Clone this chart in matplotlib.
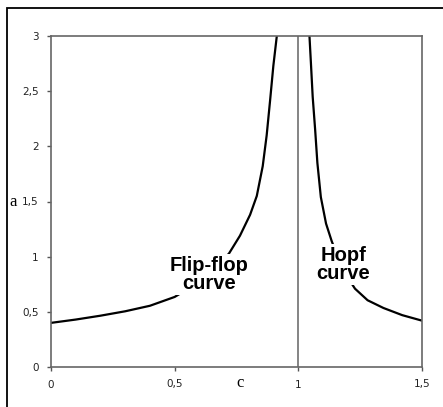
import matplotlib.pyplot as plt
from matplotlib.patches import Rectangle

# flip-flop curve (left branch)
ff_c = [0, 0.1, 0.2, 0.3, 0.4, 0.5, 0.6, 0.66, 0.72, 0.764,
        0.805, 0.832, 0.856, 0.872, 0.886, 0.899, 0.913]
ff_a = [0.40, 0.43, 0.465, 0.505, 0.555, 0.635, 0.77, 0.88, 1.03, 1.19,
        1.38, 1.55, 1.82, 2.10, 2.42, 2.73, 3.0]

# Hopf curve (right branch)
hopf_c = [1.045, 1.051, 1.058, 1.068, 1.077, 1.091, 1.112, 1.135, 1.18,
          1.229, 1.28, 1.344, 1.42, 1.5]
hopf_a = [3.0, 2.75, 2.45, 2.15, 1.85, 1.54, 1.30, 1.14, 0.88,
          0.71, 0.605, 0.535, 0.47, 0.42]

c_line = 1.0
xticks = [0, 0.5, 1, 1.5]
xlabels = ["0", "0,5", "1", "1,5"]
yticks = [0, 0.5, 1, 1.5, 2, 2.5, 3]
ylabels = ["0", "0,5", "1", "1,5", "2", "2,5", "3"]

fig = plt.figure(figsize=(4.43, 4.07), dpi=100)
W, H = 443, 407

# outer chart frame (only left/top show in the picture)
fig.patches.append(Rectangle((7 / W, -0.1), 1.2, 1 - 8 / H + 0.1,
                             transform=fig.transFigure, fill=False,
                             edgecolor="black", linewidth=1.3))

ax = fig.add_axes([51 / W, 40 / H, 371 / W, 331 / H])

ax.plot(ff_c, ff_a, color="black", linewidth=1.6, solid_joinstyle="round")
ax.plot(hopf_c, hopf_a, color="black", linewidth=1.6, solid_joinstyle="round")
ax.axvline(c_line, color="#707070", linewidth=1.2)

bbox = dict(facecolor="white", edgecolor="none", pad=1.5)
ax.text(0.639, 0.84, "Flip-flop\ncurve", ha="center", va="center",
        fontsize=14.5, fontweight="bold", family="Liberation Sans",
        linespacing=0.95, bbox=bbox, zorder=5)
ax.text(1.181, 0.93, "Hopf\ncurve", ha="center", va="center",
        fontsize=14.5, fontweight="bold", family="Liberation Sans",
        linespacing=0.95, bbox=bbox, zorder=5)

ax.set_xlim(0, 1.5)
ax.set_ylim(0, 3)
ax.set_xticks(xticks)
ax.set_xticklabels(xlabels)
ax.set_yticks(yticks)
ax.set_yticklabels(ylabels)
ax.tick_params(direction="out", length=3, width=1, color="#555555",
               labelsize=7.5, labelcolor="#222222", pad=6)
for side in ax.spines:
    ax.spines[side].set_color("#666666")
    ax.spines[side].set_linewidth(1.2)

fig.text(13 / W, 1 - 202 / H, "a", ha="center", va="center",
         fontsize=12, family="Liberation Serif")
fig.text(240 / W, 1 - 383 / H, "c", ha="center", va="center",
         fontsize=12, family="Liberation Serif")

fig.savefig("out.png", dpi=100)
